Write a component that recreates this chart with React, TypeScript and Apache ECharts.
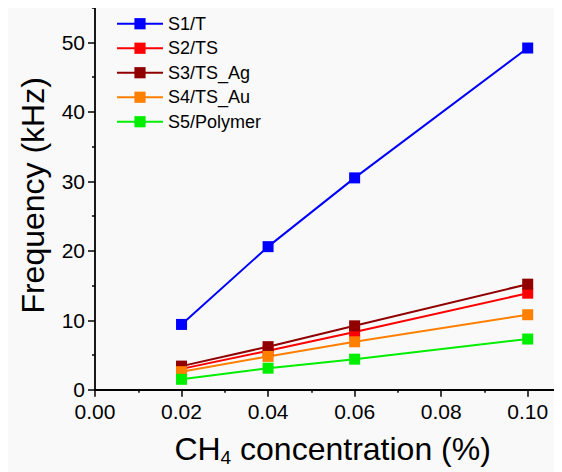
import React, { useEffect, useRef } from "react";
import * as echarts from "echarts";

const concentrations = [0.02, 0.04, 0.06, 0.1];
const seriesNames = ["S1/T", "S2/TS", "S3/TS_Ag", "S4/TS_Au", "S5/Polymer"];
const s1 = [9.4, 20.6, 30.5, 49.2];
const s2 = [3.0, 5.6, 8.3, 13.9];
const s3 = [3.4, 6.2, 9.2, 15.2];
const s4 = [2.6, 4.8, 6.9, 10.8];
const s5 = [1.5, 3.1, 4.4, 7.3];
const seriesColors = ["#0000ff", "#ff0000", "#900000", "#ff8000", "#00ee00"];
const xTicks = [0, 0.02, 0.04, 0.06, 0.08, 0.1];
const yTicks = [0, 10, 20, 30, 40, 50];

const FONT = "'Liberation Sans', Arial, sans-serif";

// layout: visible plot is 382 px tall for 55 units; axis extends to 60 (hidden above)
const Y_PX = 382 / 55;
const EXTRA_TOP = 5 * Y_PX;
const X_PX = 432.7 / 0.1;

export default function App() {
  const ref = useRef<HTMLDivElement>(null);
  useEffect(() => {
    if (!ref.current) return;
    const chart = echarts.init(ref.current, undefined, { renderer: "svg" });
    const allValues = [s1, s2, s3, s4, s5];
    chart.setOption({
      animation: false,
      backgroundColor: "transparent",
      textStyle: { fontFamily: FONT },
      grid: {
        left: 87,
        top: 0,
        width: 0.12 * X_PX,
        height: 382 + EXTRA_TOP,
        containLabel: false,
      },
      legend: {
        orient: "vertical",
        left: 103,
        top: EXTRA_TOP + 1,
        itemWidth: 46,
        itemHeight: 14,
        itemGap: 4.5,
        textStyle: { fontSize: 18, color: "#000", fontFamily: FONT, lineHeight: 20 },
        data: seriesNames,
      },
      xAxis: {
        type: "value",
        min: 0,
        max: 0.12,
        interval: 0.02,
        name: "CH{sub|4} concentration (%)",
        nameLocation: "middle",
        nameGap: 42,
        nameTextStyle: {
          fontSize: 32,
          color: "#000",
          fontFamily: FONT,
          padding: [0, 44, 0, 0],
          rich: {
            sub: { fontSize: 19, padding: [16, 0, 0, 0], fontFamily: FONT, color: "#000" },
          },
        },
        axisLine: { lineStyle: { color: "#000", width: 1.8 } },
        axisTick: { show: true, length: 7, lineStyle: { color: "#000", width: 1.5 } },
        minorTick: { show: true, splitNumber: 2, length: 3, lineStyle: { color: "#000", width: 1.5 } },
        splitLine: { show: false },
        axisLabel: {
          fontSize: 21,
          color: "#000",
          fontFamily: FONT,
          margin: 11,
          formatter: (v: number) => {
            const t = xTicks.find((k) => Math.abs(k - v) < 1e-9);
            return t === undefined ? "" : t.toFixed(2);
          },
        },
      },
      yAxis: {
        type: "value",
        min: 0,
        max: 60,
        interval: 10,
        name: "Frequency (kHz)",
        nameLocation: "middle",
        nameGap: 46,
        nameTextStyle: { fontSize: 32, color: "#000", fontFamily: FONT, padding: [0, 28, 0, 0] },
        axisLine: { show: true, lineStyle: { color: "#000", width: 1.8 } },
        axisTick: { show: true, length: 7, lineStyle: { color: "#000", width: 1.5 } },
        minorTick: { show: true, splitNumber: 2, length: 3, lineStyle: { color: "#000", width: 1.5 } },
        splitLine: { show: false },
        axisLabel: {
          fontSize: 21,
          color: "#000",
          fontFamily: FONT,
          margin: 10,
          formatter: (v: number) => (yTicks.includes(v) ? String(v) : ""),
        },
      },
      series: seriesNames.map((name, i) => ({
        name,
        type: "line",
        data: concentrations.map((c, j) => [c, allValues[i][j]]),
        symbol: "rect",
        symbolSize: 11,
        showSymbol: true,
        lineStyle: { color: seriesColors[i], width: 2 },
        itemStyle: { color: seriesColors[i] },
        emphasis: { disabled: true },
      })),
    });
    return () => chart.dispose();
  }, []);
  return (
    <div style={{ width: 554, height: 464, overflow: "hidden", background: "#f9f9f9" }}>
      <div
        ref={ref}
        style={{ width: 640, height: 464 + EXTRA_TOP, marginTop: -EXTRA_TOP }}
      />
    </div>
  );
}
